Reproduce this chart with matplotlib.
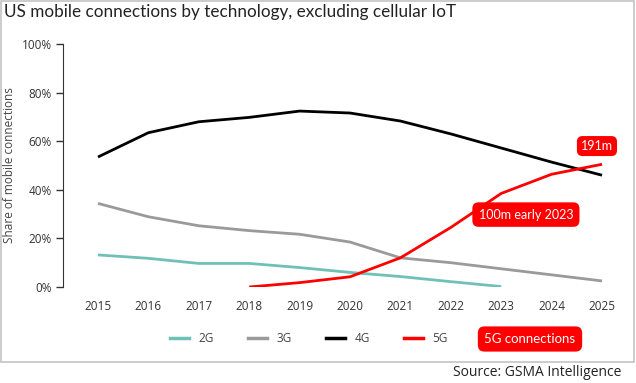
import matplotlib.pyplot as plt
from matplotlib.lines import Line2D
from matplotlib.patches import Rectangle

plt.rcParams['font.family'] = ['Lato', 'DejaVu Sans']

years = [2015, 2016, 2017, 2018, 2019, 2020, 2021, 2022, 2023, 2024, 2025]
share_2g = [13.2, 11.8, 9.7, 9.7, 8.0, 6.0, 4.3, 2.2, 0.2]
share_3g = [34.4, 28.9, 25.2, 23.2, 21.7, 18.5, 12.0, 10.0, 7.5, 5.0, 2.5]
share_4g = [53.5, 63.5, 68.0, 69.8, 72.4, 71.6, 68.3, 63.0, 57.2, 51.4, 46.0]
years_5g = [2018, 2019, 2020, 2021, 2022, 2023, 2024, 2025]
share_5g = [0.0, 1.8, 4.2, 12.0, 24.5, 38.5, 46.4, 50.5]

colors = {'2G': '#6fc1b8', '3G': '#9a9a9a', '4G': '#000000', '5G': '#ff0000'}
tick_font = ['Open Sans', 'DejaVu Sans']

fig = plt.figure(figsize=(6.36, 3.83), dpi=100)
ax = fig.add_axes([63 / 636, 1 - 287 / 383, (620 - 63) / 636, (287 - 44) / 383])

lw = 2.0
ax.plot(years[:len(share_2g)], share_2g, color=colors['2G'], lw=lw, solid_capstyle='butt')
ax.plot(years, share_3g, color=colors['3G'], lw=lw, solid_capstyle='butt')
ax.plot(years, share_4g, color=colors['4G'], lw=lw, solid_capstyle='butt')
ax.plot(years_5g, share_5g, color=colors['5G'], lw=lw, solid_capstyle='butt')

ax.set_xlim(2015 - 35 / 50.4, 2025 + 18 / 50.4)
ax.set_ylim(0, 100)
ax.set_yticks(range(0, 101, 20))
ax.set_yticklabels([f'{v}%' for v in range(0, 101, 20)], family=tick_font)
ax.set_xticks(years)
ax.set_xticklabels([str(y) for y in years], family=tick_font)
ax.tick_params(axis='y', length=5, width=1, colors='#333333', labelsize=8.5, pad=3)
ax.tick_params(axis='x', length=0, labelsize=8.5, labelcolor='#333333', pad=9)
for s in ['top', 'right', 'bottom']:
    ax.spines[s].set_visible(False)
ax.spines['left'].set_color('#333333')
fig.text(10 / 636, 1 - 165 / 383, 'Share of mobile connections', fontsize=8.5,
         color='#444444', rotation=90, ha='center', va='center', family=tick_font)

# callouts
ax.text(2024.9, 58, '191m', color='white', fontsize=9, ha='center', va='center',
        bbox=dict(boxstyle='round,pad=0.32,rounding_size=0.45', fc='#ff0000', ec='none'))
ax.text(2023.49, 29.8, '100m early 2023', color='white', fontsize=9,
        ha='center', va='center',
        bbox=dict(boxstyle='round,pad=0.5,rounding_size=0.5', fc='#ff0000', ec='none'))

# legend
handles = [Line2D([], [], color=colors[k], lw=2.5) for k in ['2G', '3G', '4G', '5G']]
fig.legend(handles, ['2G', '3G', '4G', '5G'], loc='center', ncol=4,
           bbox_to_anchor=(309 / 636, 1 - 339 / 383), frameon=False,
           prop={'family': tick_font, 'size': 8.5}, handlelength=1.6,
           handletextpad=0.8, columnspacing=2.9, labelcolor='#444444')
fig.text(530 / 636, 1 - 339 / 383, '5G connections', color='white', fontsize=9.5,
         ha='center', va='center',
         bbox=dict(boxstyle='round,pad=0.5,rounding_size=0.5', fc='#ff0000', ec='none'))

fig.text(4 / 636, 1 - 4 / 383, 'US mobile connections by technology, excluding cellular IoT',
         fontsize=12.3, color='#222222', ha='left', va='top')
fig.text(621 / 636, 1 - 372 / 383, 'Source: GSMA Intelligence', fontsize=10,
         color='#222222', ha='right', va='center', family=tick_font)

fig.patches.append(Rectangle((0.5 / 636, 1 - 362 / 383), 633.5 / 636, 361.5 / 383,
                             transform=fig.transFigure, fill=False, ec='#c4c4c4', lw=1.2))

fig.savefig('out.png', dpi=100)
